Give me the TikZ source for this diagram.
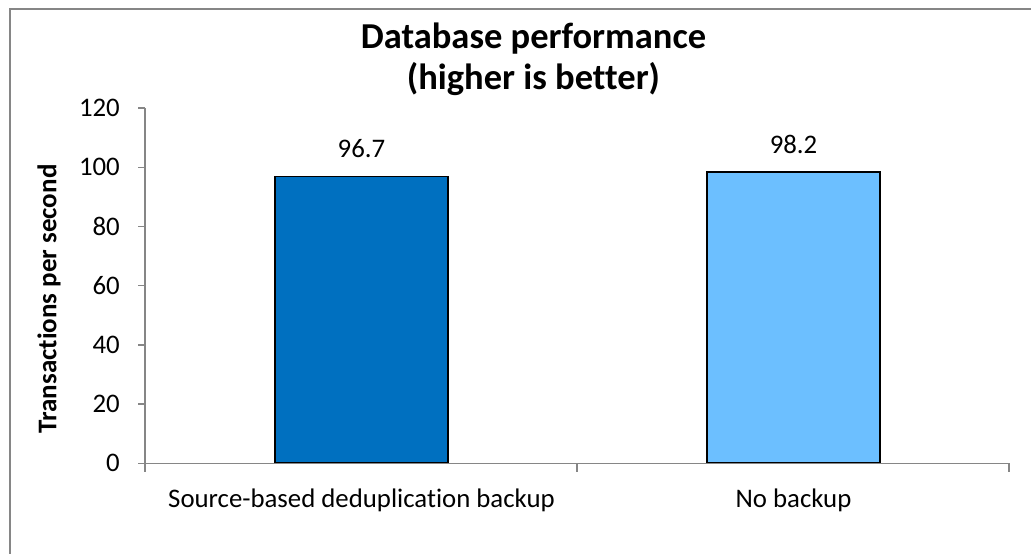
\documentclass[tikz,border=0pt]{standalone}
\usepackage{fontspec}
\setmainfont{Carlito}[Ligatures=NoCommon]
\usepackage{xcolor}
\definecolor{axisgray}{RGB}{134,134,134}
\definecolor{darkbar}{RGB}{0,112,192}
\definecolor{lightbar}{RGB}{108,191,255}
\newcommand\valbar[4]{\node[valbar,fill=#4,minimum height={#3*2.96}] (#1) at (#2,463.3) {}; \node[vlabel] at ([yshift=18pt]#1.north) {#3};}
\newcommand\catlabel[3]{\node[clabel] (#1) at (#2,507) {#3};}
\begin{document}
\begin{tikzpicture}[x=1pt,y=-1pt]
\tikzstyle{valbar}=[draw=black,line width=1.5pt,anchor=south,minimum width=173,inner sep=0pt]
\tikzstyle{vlabel}=[anchor=base,inner sep=0pt,font=\fontsize{26.8}{32}\selectfont]
\tikzstyle{clabel}=[anchor=base,inner sep=0pt,font=\fontsize{26.8}{32}\selectfont]
\tikzstyle{tlabel}=[anchor=east,inner sep=0pt,font=\fontsize{26.8}{32}\selectfont]
\tikzstyle{axis}=[draw=axisgray,line width=1.5pt]
\useasboundingbox (0,0) rectangle (1031,554);
% frame, only its left and top edges are on the page
\draw[axisgray,line width=2pt] (10,554) -- (10,8.5) -- (1031,8.5);
% title
\node[align=center,inner sep=0pt,font=\fontsize{36.5}{41}\selectfont\bfseries] (title) at (533.5,59) {Database performance\\(higher is better)};
% bars
\valbar{dedup}{361.5}{96.7}{darkbar}
\valbar{nobackup}{793.5}{98.2}{lightbar}
% axes
\coordinate (origin) at (145,463.3);
\coordinate (ytop) at (145,108);
\coordinate (xend) at (1009,463.3);
\path[axis] (ytop) -- (origin) -- (xend);
\foreach \v in {0,20,...,120} {
  \coordinate (yt\v) at (145,463.3-\v*2.96);
  \path[axis] (yt\v) -- ++(-7,0);
  \node[tlabel] at ([xshift=-25pt]yt\v) {\v};
}
\foreach \x in {145,577,1009} \path[axis] (\x,463.3) -- (\x,472);
\node[rotate=90,inner sep=0pt,font=\fontsize{27}{32}\selectfont\bfseries] (ytitle) at (49,299) {Transactions per second};
\catlabel{cat1}{361.5}{Source-based deduplication backup}
\catlabel{cat2}{793.5}{No backup}
\end{tikzpicture}
\end{document}
